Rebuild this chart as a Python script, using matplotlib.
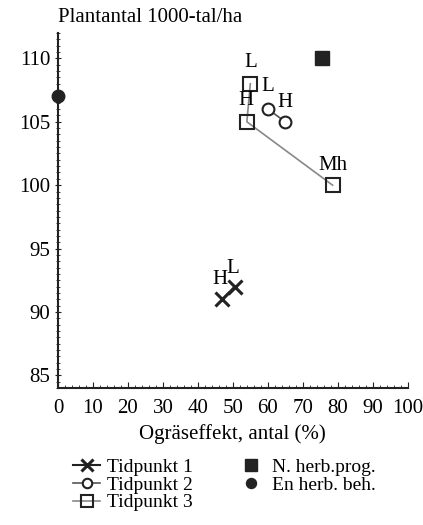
import numpy as np
import matplotlib
matplotlib.use('Agg')
from matplotlib import pyplot as plt
from matplotlib.ticker import MultipleLocator

plt.rcParams['font.family'] = ['Liberation Serif', 'DejaVu Serif']

# Tidpunkt 1 (H, L)
t1_x = [47, 50.5]
t1_y = [91, 92]
t1_lab = ['H', 'L']
# Tidpunkt 2 (L, H)
t2_x = [60, 65]
t2_y = [106, 105]
t2_lab = ['L', 'H']
# Tidpunkt 3 (L, H, Mh)
t3_x = [55, 54, 78.5]
t3_y = [108, 105, 100]
t3_lab = ['L', 'H', 'Mh']
# references
nherb_x, nherb_y = [75.5], [110]
enherb_x, enherb_y = [0], [107]

fig = plt.figure(figsize=(4.23, 5.25), dpi=100)
ax = fig.add_axes([0.137, 0.261, 0.827, 0.676])

ink = '#222222'
ax.plot(t1_x, t1_y, color=ink, lw=1.5, marker='x', ms=10, mew=2.2, label='Tidpunkt 1')
ax.plot(t2_x, t2_y, color='#555555', lw=1.2, marker='o', ms=8.5, mfc='white', mec=ink, mew=1.5,
        label='Tidpunkt 2')
ax.plot(t3_x, t3_y, color='#888888', lw=1.2, marker='s', ms=10, mfc='none', mec=ink, mew=1.5,
        label='Tidpunkt 3')
ax.plot(nherb_x, nherb_y, ls='none', marker='s', ms=10, color=ink, label='N. herb.prog.')
ax.plot(enherb_x, enherb_y, ls='none', marker='o', ms=9, color=ink, label='En herb. beh.',
        clip_on=False, zorder=5)

fs = 15
# point labels
def lab(text, x, y, dx, dy):
    ax.annotate(text, (x, y), xytext=(dx, dy), textcoords='offset points',
                ha='center', va='center', fontsize=fs)

lab(t1_lab[0], t1_x[0], t1_y[0], -1.5, 14)
lab(t1_lab[1], t1_x[1], t1_y[1], -1, 13)
lab(t2_lab[0], t2_x[0], t2_y[0], 0, 16)
lab(t2_lab[1], t2_x[1], t2_y[1], 0, 14)
lab(t3_lab[0], t3_x[0], t3_y[0], 0, 15)
lab(t3_lab[1], t3_x[1], t3_y[1], -1, 15)
lab(t3_lab[2], t3_x[2], t3_y[2], 0, 14)

ax.set_xlim(0, 100)
ax.set_ylim(84, 112)
ax.xaxis.set_major_locator(MultipleLocator(10))
ax.xaxis.set_minor_locator(MultipleLocator(2))
ax.yaxis.set_minor_locator(MultipleLocator(0.5))
ax.set_yticks([85, 90, 95, 100, 105, 110])
ax.tick_params(axis='x', which='both', direction='in', labelsize=fs, color=ink, pad=8)
ax.tick_params(axis='x', which='major', length=4)
ax.tick_params(axis='x', which='minor', length=2)
ax.tick_params(axis='y', which='both', direction='inout', labelsize=fs, color=ink, pad=3)
ax.tick_params(axis='y', which='major', length=5)
ax.tick_params(axis='y', which='minor', length=3)
for s in ['top', 'right']:
    ax.spines[s].set_visible(False)
for s in ['left', 'bottom']:
    ax.spines[s].set_linewidth(1.5)
    ax.spines[s].set_color(ink)

ax.set_xlabel('Ogräseffekt, antal (%)', fontsize=fs, labelpad=4)
fig.text(0.137, 0.966, 'Plantantal 1000-tal/ha', fontsize=fs, ha='left', va='center')

h, l = ax.get_legend_handles_labels()
order = [0, 1, 2, 3, 4]
fig.legend([h[i] for i in order], [l[i] for i in order], ncol=2, loc='upper left',
           bbox_to_anchor=(0.15, 0.145), frameon=False, fontsize=14,
           handlelength=1.4, handletextpad=0.35, columnspacing=2.3, labelspacing=0.0,
           borderpad=0, markerscale=0.8)

fig.savefig('out.png', dpi=100)
